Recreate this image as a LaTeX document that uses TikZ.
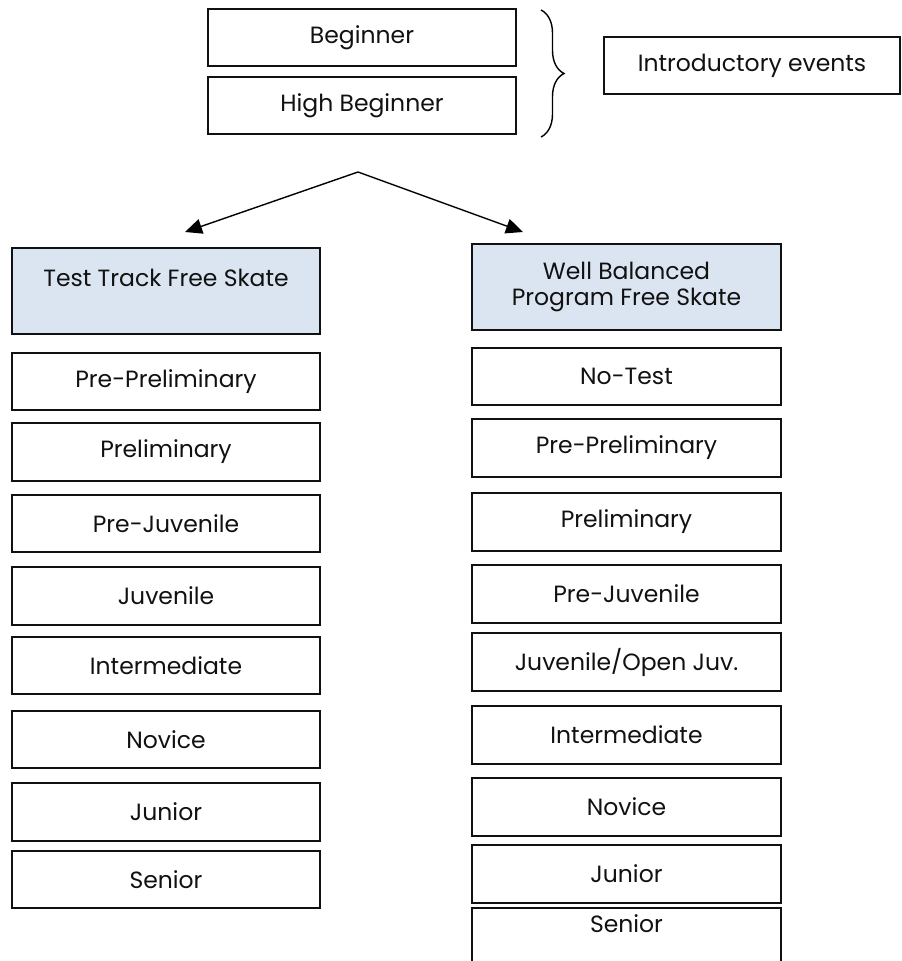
\documentclass[tikz,border=0pt]{standalone}
\usepackage{fontspec}
\setmainfont{Poppins}
\usepackage{xcolor}
\usepackage{tikz}
\usetikzlibrary{arrows.meta, decorations.pathreplacing}
\definecolor{cHEAD}{HTML}{DBE5F1}
\definecolor{cLINE}{HTML}{111111}
\tikzset{
  lvlbox/.style={draw=cLINE, line width=1.6pt, minimum height=57.5, inner sep=0pt,
    align=center, text=cLINE, font=\fontsize{23.5}{26}\selectfont},
  leftbox/.style={lvlbox, minimum width=308},
  rightbox/.style={lvlbox, minimum width=309},
  headbox/.style={fill=cHEAD, minimum height=86},
  splitarrow/.style={-{Triangle[length=17pt, width=15pt]}, line width=1.4pt}
}

\begin{document}
\begin{tikzpicture}[x=1pt, y=-1pt]
  \useasboundingbox (0,0) rectangle (902,961);

  % Introductory events
  \node[lvlbox, minimum width=308] (beg) at (362,37.5) {Beginner};
  \node[lvlbox, minimum width=308] (hbeg) at (362,105.5) {High Beginner};
  \draw[line width=1.4pt, decorate, decoration={brace, amplitude=23pt}] (541,10) -- (541,137);
  \node[lvlbox, minimum width=296] (intro) at (752,65.5) {Introductory events};

  % Split into the two tracks
  \coordinate (split) at (358,172);
  \coordinate (ttend) at (185,232);
  \coordinate (wbend) at (523,232);
  \draw[splitarrow] (split) -- (ttend);
  \draw[splitarrow] (split) -- (wbend);

  % Test Track Free Skate
  \node[leftbox, headbox] (tt) at (166,291) {Test Track Free Skate\\ \phantom{T}};
  \node[leftbox] (tt-ppre) at (166,381.5) {Pre-Preliminary};
  \node[leftbox] (tt-pre) at (166,452) {Preliminary};
  \node[leftbox] (tt-pjuv) at (166,523.5) {Pre-Juvenile};
  \node[leftbox] (tt-juv) at (166,596) {Juvenile};
  \node[leftbox] (tt-int) at (166,665.5) {Intermediate};
  \node[leftbox] (tt-nov) at (166,739.5) {Novice};
  \node[leftbox] (tt-jun) at (166,812) {Junior};
  \node[leftbox] (tt-sen) at (166,879.5) {Senior};

  % Well Balanced Program Free Skate
  \node[rightbox, headbox] (wb) at (626.5,287) {Well Balanced\\ Program Free Skate};
  \node[rightbox] (wb-nt) at (626.5,376.5) {No-Test};
  \node[rightbox] (wb-ppre) at (626.5,448) {Pre-Preliminary};
  \node[rightbox] (wb-pre) at (626.5,522) {Preliminary};
  \node[rightbox] (wb-pjuv) at (626.5,594) {Pre-Juvenile};
  \node[rightbox] (wb-juv) at (626.5,662) {Juvenile/Open Juv.};
  \node[rightbox] (wb-int) at (626.5,735) {Intermediate};
  \node[rightbox] (wb-nov) at (626.5,807) {Novice};
  \node[rightbox] (wb-jun) at (626.5,874) {Junior};
  \node[rightbox] (wb-sen) at (626.5,937) {Senior\\ \phantom{S}};
\end{tikzpicture}
\end{document}
